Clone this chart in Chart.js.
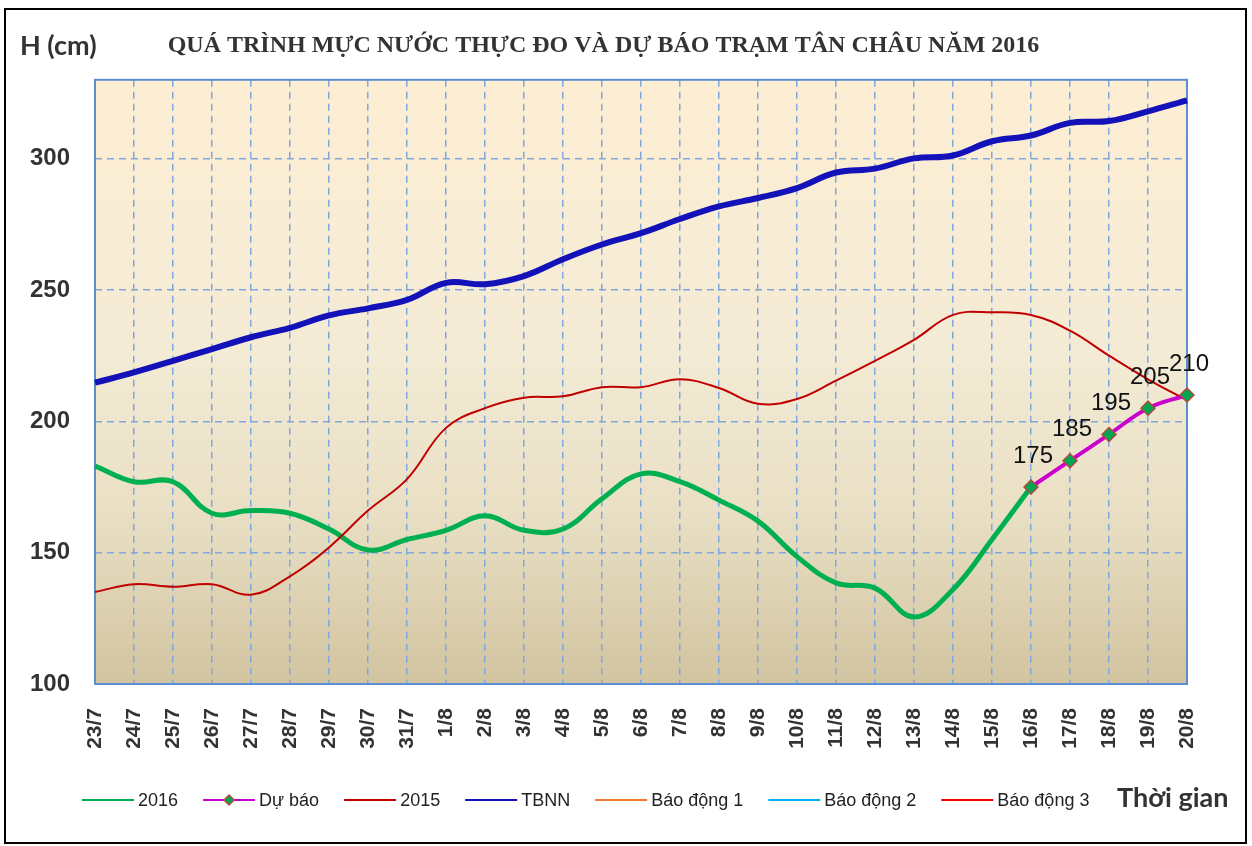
<!DOCTYPE html>
<html>
<head>
<meta charset="utf-8">
<title>Mực nước trạm Tân Châu 2016</title>
<script src="https://cdn.jsdelivr.net/npm/chart.js@4.4.1/dist/chart.umd.min.js"></script>
<style>
    html, body { margin: 0; padding: 0; background: #fff; }
    #wrap { position: relative; width: 1252px; height: 846px; }
</style>
</head>
<body>
<div id="wrap"><canvas id="levelChart" width="1252" height="846"></canvas></div>
<script>
// Ngày quan trắc
const days = ['23/7', '24/7', '25/7', '26/7', '27/7', '28/7', '29/7', '30/7', '31/7',
    '1/8', '2/8', '3/8', '4/8', '5/8', '6/8', '7/8', '8/8', '9/8', '10/8', '11/8',
    '12/8', '13/8', '14/8', '15/8', '16/8', '17/8', '18/8', '19/8', '20/8'];

// Mực nước thực đo 2016 (cm), đến 16/8
const level2016 = [183, 177, 177, 165, 166, 165, 159, 151, 155, 158.5, 164, 158.5, 159,
    170.5, 180, 177, 170, 162, 148.5, 138.5, 136.5, 125.5, 136, 155, 175,
    null, null, null, null];

// Dự báo
const forecast = [null, null, null, null, null, null, null, null, null, null, null, null,
    null, null, null, null, null, null, null, null, null, null, null, null,
    175, 185, 195, 205, 210];

// Cùng kỳ 2015
const level2015 = [135, 138, 137, 138, 134, 141, 152, 166, 178, 197.5, 205, 209, 209.5,
    213, 213, 216, 212.7, 206.7, 208.5, 215.5, 223, 231, 240.5, 241.5, 240.5,
    234.5, 225, 216, 208];

// Trung bình nhiều năm
const tbnn = [214.7, 218.6, 223, 227.5, 232, 235.6, 240.3, 243, 246.2, 252.7, 252.2,
    255.3, 261.7, 267.3, 271.6, 277, 281.8, 285, 288.8, 294.7, 296.2, 300.1, 301.2,
    306.6, 308.8, 313.6, 314.3, 318, 322.2];

const yTicks = [100, 150, 200, 250, 300];
const yMin = 100;
const yMax = 330;

const emptySeries = days.map(() => null);

// Plot background, outer frame
const frameBackground = {
    id: 'frameBackground',
    beforeDraw(chart) {
        const { ctx, chartArea: a } = chart;
        ctx.save();
        ctx.fillStyle = '#ffffff';
        ctx.fillRect(0, 0, chart.width, chart.height);
        ctx.strokeStyle = '#000000';
        ctx.lineWidth = 2;
        ctx.strokeRect(5, 9, 1241, 834);

        const grad = ctx.createLinearGradient(0, a.top, 0, a.bottom);
        grad.addColorStop(0, '#FDEED3');
        grad.addColorStop(0.45, '#F4EBD6');
        grad.addColorStop(0.72, '#E8DFC4');
        grad.addColorStop(1, '#D2C4A0');
        ctx.fillStyle = grad;
        ctx.fillRect(a.left, a.top, a.right - a.left, a.bottom - a.top);
        ctx.restore();
    }
};

const plotBorder = {
    id: 'plotBorder',
    beforeDatasetsDraw(chart) {
        const { ctx, chartArea: a } = chart;
        ctx.save();
        ctx.strokeStyle = '#5E8ED2';
        ctx.lineWidth = 2;
        ctx.strokeRect(a.left, a.top, a.right - a.left, a.bottom - a.top);
        ctx.restore();
    }
};

// Nhãn giá trị dự báo
const forecastLabels = {
    id: 'forecastLabels',
    afterDatasetsDraw(chart) {
        const { ctx } = chart;
        const idx = chart.data.datasets.findIndex(d => d.label === 'Dự báo');
        const meta = chart.getDatasetMeta(idx);
        ctx.save();
        ctx.font = '24px "Liberation Sans", Arial, sans-serif';
        ctx.fillStyle = '#111111';
        ctx.textAlign = 'center';
        ctx.textBaseline = 'middle';
        meta.data.forEach((pt, i) => {
            const v = forecast[i];
            if (v === null || pt.skip) return;
            ctx.fillText(String(v), pt.x + 2, pt.y - 31);
        });
        ctx.restore();
    }
};

// Chú giải + nhãn trục
const legendAndAxisText = {
    id: 'legendAndAxisText',
    afterDraw(chart) {
        const { ctx } = chart;
        ctx.save();

        ctx.fillStyle = '#333333';
        ctx.font = 'bold 27px Lato, "Open Sans", sans-serif';
        ctx.textBaseline = 'middle';
        ctx.textAlign = 'left';
        ctx.fillText('H (cm)', 20, 46);

        const y = 800;
        let x = 82;
        ctx.font = '18px "Liberation Sans", Arial, sans-serif';
        chart.data.datasets.forEach(ds => {
            ctx.strokeStyle = ds.borderColor;
            ctx.lineWidth = 2;
            ctx.beginPath();
            ctx.moveTo(x, y);
            ctx.lineTo(x + 52, y);
            ctx.stroke();
            if (ds.pointRadius > 0) {
                const cx = x + 26, r = 5;
                ctx.beginPath();
                ctx.moveTo(cx, y - r);
                ctx.lineTo(cx + r, y);
                ctx.lineTo(cx, y + r);
                ctx.lineTo(cx - r, y);
                ctx.closePath();
                ctx.fillStyle = ds.pointBackgroundColor;
                ctx.fill();
                ctx.strokeStyle = ds.pointBorderColor;
                ctx.lineWidth = 1.5;
                ctx.stroke();
            }
            ctx.fillStyle = '#222222';
            ctx.fillText(ds.label, x + 56, y + 1);
            x += 56 + ctx.measureText(ds.label).width + 25;
        });

        ctx.fillStyle = '#333333';
        ctx.font = 'bold 27px Lato, "Open Sans", sans-serif';
        ctx.fillText('Thời gian', 1117, 798);
        ctx.restore();
    }
};

const ctx = document.getElementById('levelChart').getContext('2d');

new Chart(ctx, {
    type: 'line',
    data: {
        labels: days,
        datasets: [
            {
                label: '2016',
                data: level2016,
                borderColor: '#00B050',
                borderWidth: 5,
                pointRadius: 0,
                tension: 0.4,
                order: 3
            },
            {
                label: 'Dự báo',
                data: forecast,
                borderColor: '#CC00CC',
                borderWidth: 4,
                pointStyle: 'rectRot',
                pointRadius: 7,
                pointBackgroundColor: '#00A651',
                pointBorderColor: '#B04A3C',
                pointBorderWidth: 1.5,
                tension: 0.4,
                order: 1
            },
            {
                label: '2015',
                data: level2015,
                borderColor: '#C00000',
                borderWidth: 2,
                pointRadius: 0,
                tension: 0.4,
                order: 2
            },
            {
                label: 'TBNN',
                data: tbnn,
                borderColor: '#1212B8',
                borderWidth: 6,
                pointRadius: 0,
                tension: 0.4,
                order: 4
            },
            {
                label: 'Báo động 1',
                data: emptySeries,
                borderColor: '#ED7D31',
                borderWidth: 2,
                pointRadius: 0,
                order: 5
            },
            {
                label: 'Báo động 2',
                data: emptySeries,
                borderColor: '#00B0F0',
                borderWidth: 2,
                pointRadius: 0,
                order: 6
            },
            {
                label: 'Báo động 3',
                data: emptySeries,
                borderColor: '#FF0000',
                borderWidth: 2,
                pointRadius: 0,
                order: 7
            }
        ]
    },
    options: {
        responsive: false,
        animation: false,
        layout: {
            padding: { left: 20, right: 65, top: 0, bottom: 60 }
        },
        plugins: {
            legend: { display: false },
            tooltip: { enabled: false },
            title: {
                display: true,
                text: 'QUÁ TRÌNH MỰC NƯỚC THỰC ĐO VÀ DỰ BÁO TRẠM TÂN CHÂU NĂM 2016',
                color: '#333333',
                font: { family: '"Liberation Serif", "Times New Roman", serif', size: 24, weight: 'bold' },
                padding: { top: 31, bottom: 20 }
            }
        },
        scales: {
            x: {
                grid: { color: '#7EA8DE', lineWidth: 1.5, drawTicks: false },
                border: { display: false, dash: [7, 5] },
                ticks: {
                    autoSkip: false,
                    minRotation: 90,
                    maxRotation: 90,
                    padding: 24,
                    color: '#333333',
                    font: { family: '"Liberation Sans", Arial, sans-serif', size: 21, weight: 'bold' }
                },
                afterFit(scale) { scale.height = 102; }
            },
            y: {
                min: yMin,
                max: yMax,
                grid: { color: '#7EA8DE', lineWidth: 1.5, drawTicks: false },
                border: { display: false, dash: [7, 5] },
                afterBuildTicks(scale) {
                    scale.ticks = yTicks.map(v => ({ value: v }));
                },
                ticks: {
                    padding: 25,
                    color: '#333333',
                    font: { family: '"Liberation Sans", Arial, sans-serif', size: 24, weight: 'bold' }
                },
                afterFit(scale) { scale.width = 75; }
            }
        }
    },
    plugins: [frameBackground, plotBorder, forecastLabels, legendAndAxisText]
});
</script>
</body>
</html>
